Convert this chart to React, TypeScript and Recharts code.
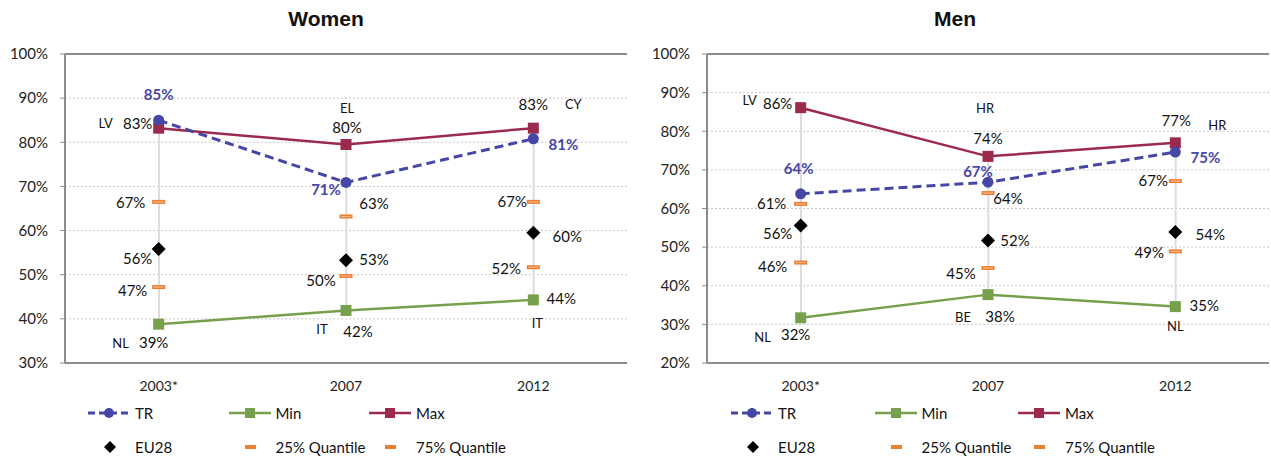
import React from 'react';
import { ComposedChart, Line, Bar, XAxis, YAxis, CartesianGrid, LabelList, ReferenceLine } from 'recharts';

// categories and values
const categories = ['2003*', '2007', '2012'];

const womenTR = [85, 70.9, 80.8];
const womenMin = [38.8, 41.9, 44.3];
const womenMax = [83.2, 79.5, 83.2];
const womenEU28 = [55.8, 53.3, 59.5];
const womenQ25 = [47.2, 49.7, 51.7];
const womenQ75 = [66.5, 63.2, 66.5];
const womenMinCountry = ['NL', 'IT', 'IT'];
const womenMaxCountry = ['LV', 'EL', 'CY'];

const menTR = [63.8, 66.8, 74.6];
const menMin = [31.7, 37.7, 34.6];
const menMax = [86.1, 73.5, 77];
const menEU28 = [55.6, 51.7, 53.9];
const menQ25 = [46, 44.6, 48.9];
const menQ75 = [61.2, 64, 67.1];
const menMinCountry = ['NL', 'BE', 'NL'];
const menMaxCountry = ['LV', 'HR', 'HR'];

const womenTicks = [30, 40, 50, 60, 70, 80, 90, 100];
const menTicks = [20, 30, 40, 50, 60, 70, 80, 90, 100];

// label placement (pixel offsets from each point)
const womenOffsets = {
  tr: [[0, -26], [-20, 7], [30, 5]],
  max: [[-21, -5], [1, -17], [0, -24]],
  min: [[-5, 18], [12, 21], [28, -2]],
  eu: [[-21, 9], [28, -1], [34, 3]],
  q25: [[-26, 3], [-25, 4], [-27, 1]],
  q75: [[-28, 0], [28, -13], [-21, -1]],
  maxCountry: [[-53, -5], [1, -36], [40, -24]],
  minCountry: [[-38, 19], [-24, 19], [4, 23]],
};
const menOffsets = {
  tr: [[-2, -26], [-10, -11], [30, 5]],
  max: [[-23, -5], [0, -18], [1, -23]],
  min: [[-5, 16], [12, 21], [29, -2]],
  eu: [[-23, 8], [27, -1], [35, 2]],
  q25: [[-28, 3], [-27, 5], [-26, 1]],
  q75: [[-29, -1], [20, 5], [-22, -1]],
  maxCountry: [[-51, -8], [-3, -48], [42, -18]],
  minCountry: [[-38, 19], [-25, 22], [0, 19]],
};

const FONT = 'Lato, "Open Sans", sans-serif';
const C_TR = '#4646a6';
const C_MIN = '#77a04c';
const C_MAX = '#9c2a4c';
const C_Q = '#ee7d32';
const C_AXIS = '#8c8c8c';

const buildRows = (tr: number[], mn: number[], mx: number[], eu: number[], q25: number[], q75: number[]) =>
  categories.map((c, i) => ({
    year: c,
    tr: tr[i],
    min: mn[i],
    max: mx[i],
    eu: eu[i],
    q25: q25[i],
    q75: q75[i],
    range: [mn[i], mx[i]],
  }));

const circleDot = (p: any) => <circle key={`c${p.index}`} cx={p.cx} cy={p.cy} r={5.5} fill={C_TR} />;
const squareDot = (color: string) => (p: any) =>
  <rect key={`s${p.index}`} x={p.cx - 5.5} y={p.cy - 5.5} width={11} height={11} fill={color} />;
const diamondDot = (p: any) => (
  <polygon
    key={`d${p.index}`}
    points={`${p.cx},${p.cy - 7} ${p.cx + 7},${p.cy} ${p.cx},${p.cy + 7} ${p.cx - 7},${p.cy}`}
    fill="#000"
  />
);
const dashDot = (p: any) => (
  <g key={`q${p.index}`}>
    <rect x={p.cx - 6.5} y={p.cy - 2} width={13} height={4} fill={C_Q} />
    <line x1={p.cx - 5} x2={p.cx + 5} y1={p.cy} y2={p.cy} stroke="#f7c4a0" strokeWidth={1} />
  </g>
);

const valueLabel = (offsets: number[][], color = '#111', bold = false) => (p: any) => {
  const [dx, dy] = offsets[p.index];
  return (
    <text
      key={`v${p.index}`}
      x={Number(p.x) + dx}
      y={Number(p.y) + dy}
      textAnchor="middle"
      dominantBaseline="central"
      fill={color}
      fontFamily={FONT}
      fontSize={15}
      fontWeight={bold ? 700 : 400}
    >
      {Math.round(p.value)}%
    </text>
  );
};

const countryLabel = (names: string[], offsets: number[][]) => (p: any) => {
  const [dx, dy] = offsets[p.index];
  return (
    <text
      key={`n${p.index}`}
      x={Number(p.x) + dx}
      y={Number(p.y) + dy}
      textAnchor="middle"
      dominantBaseline="central"
      fill="#111"
      fontFamily={FONT}
      fontSize={13}
    >
      {names[p.index]}
    </text>
  );
};

const LegendIcon = ({ kind }: { kind: string }) => {
  if (kind === 'tr')
    return (
      <svg width={42} height={14}>
        <line x1={0} x2={42} y1={7} y2={7} stroke={C_TR} strokeWidth={3} strokeDasharray="7 4" />
        <circle cx={21} cy={7} r={5} fill={C_TR} />
      </svg>
    );
  if (kind === 'min' || kind === 'max') {
    const c = kind === 'min' ? C_MIN : C_MAX;
    return (
      <svg width={42} height={14}>
        <line x1={0} x2={42} y1={7} y2={7} stroke={c} strokeWidth={2.5} />
        <rect x={16} y={2} width={10} height={10} fill={c} />
      </svg>
    );
  }
  if (kind === 'eu')
    return (
      <svg width={42} height={14}>
        <polygon points="22,1 28,7 22,13 16,7" fill="#000" />
      </svg>
    );
  return (
    <svg width={42} height={14}>
      <rect x={16} y={5} width={11} height={4} fill={C_Q} />
    </svg>
  );
};

const legendRows = [
  [['tr', 'TR'], ['min', 'Min'], ['max', 'Max']],
  [['eu', 'EU28'], ['q', '25% Quantile'], ['q', '75% Quantile']],
];

const PanelLegend = ({ left, colWidth }: { left: number; colWidth: number }) => (
  <>
    {legendRows.map((row, r) =>
      row.map(([kind, name], c) => (
        <div
          key={`${r}-${c}`}
          style={{
            position: 'absolute',
            left: left + c * colWidth,
            top: (r === 0 ? 413 : 447) - 9,
            height: 18,
            display: 'flex',
            alignItems: 'center',
            fontFamily: FONT,
            fontSize: 15,
            color: '#111',
            whiteSpace: 'nowrap',
          }}
        >
          <LegendIcon kind={kind} />
          <span style={{ marginLeft: 5 }}>{name}</span>
        </div>
      ))
    )}
  </>
);

type PanelProps = {
  title: string;
  titleCenter: number;
  rows: any[];
  yMin: number;
  ticks: number[];
  offs: any;
  minNames: string[];
  maxNames: string[];
  left: number;
  width: number;
  yAxisWidth: number;
  marginRight: number;
  legendLeft: number;
  colWidth: number;
};

const Panel = (p: PanelProps) => (
  <div style={{ position: 'absolute', left: p.left, top: 0, width: p.width, height: 458 }}>
    <div
      style={{
        position: 'absolute',
        left: p.titleCenter - p.left - 100,
        width: 200,
        top: 7,
        textAlign: 'center',
        fontFamily: '"Liberation Sans", Arial, sans-serif',
        fontWeight: 700,
        fontSize: 21,
        color: '#111',
      }}
    >
      {p.title}
    </div>
    <div style={{ position: 'absolute', left: 0, top: 0 }}>
      <ComposedChart
        width={p.width}
        height={400}
        data={p.rows}
        margin={{ top: 54, right: p.marginRight, left: 0, bottom: 7 }}
      >
        <CartesianGrid vertical={false} stroke="#c8c8c8" strokeDasharray="2 2" />
        <XAxis
          dataKey="year"
          height={30}
          tickLine={false}
          tickMargin={12}
          axisLine={{ stroke: C_AXIS, strokeWidth: 2 }}
          tick={{ fill: '#222', fontSize: 14, fontFamily: FONT }}
        />
        <YAxis
          domain={[p.yMin, 100]}
          ticks={p.ticks}
          width={p.yAxisWidth}
          tickSize={5}
          tickMargin={12}
          tickFormatter={(v: number) => `${v}%`}
          axisLine={{ stroke: C_AXIS, strokeWidth: 2 }}
          tickLine={{ stroke: C_AXIS }}
          tick={{ fill: '#222', fontSize: 15, fontFamily: FONT }}
        />
        <YAxis
          yAxisId="r"
          orientation="right"
          width={0}
          domain={[0, 1]}
          tick={false}
          tickLine={false}
          axisLine={{ stroke: C_AXIS, strokeWidth: 2 }}
        />
        <ReferenceLine y={100} stroke={C_AXIS} strokeWidth={2} />
        <Bar dataKey="range" barSize={2} fill="#dcdcdc" isAnimationActive={false} />
        <Line
          dataKey="q75"
          stroke="none"
          dot={dashDot}
          activeDot={false}
          isAnimationActive={false}
        >
          <LabelList dataKey="q75" content={valueLabel(p.offs.q75)} />
        </Line>
        <Line
          dataKey="q25"
          stroke="none"
          dot={dashDot}
          activeDot={false}
          isAnimationActive={false}
        >
          <LabelList dataKey="q25" content={valueLabel(p.offs.q25)} />
        </Line>
        <Line
          dataKey="eu"
          stroke="none"
          dot={diamondDot}
          activeDot={false}
          isAnimationActive={false}
        >
          <LabelList dataKey="eu" content={valueLabel(p.offs.eu)} />
        </Line>
        <Line
          dataKey="min"
          stroke={C_MIN}
          strokeWidth={2.5}
          dot={squareDot(C_MIN)}
          activeDot={false}
          isAnimationActive={false}
        >
          <LabelList dataKey="min" content={valueLabel(p.offs.min)} />
          <LabelList dataKey="min" content={countryLabel(p.minNames, p.offs.minCountry)} />
        </Line>
        <Line
          dataKey="max"
          stroke={C_MAX}
          strokeWidth={2.5}
          dot={squareDot(C_MAX)}
          activeDot={false}
          isAnimationActive={false}
        >
          <LabelList dataKey="max" content={valueLabel(p.offs.max)} />
          <LabelList dataKey="max" content={countryLabel(p.maxNames, p.offs.maxCountry)} />
        </Line>
        <Line
          dataKey="tr"
          stroke={C_TR}
          strokeWidth={3}
          strokeDasharray="9 5"
          dot={circleDot}
          activeDot={false}
          isAnimationActive={false}
        >
          <LabelList dataKey="tr" content={valueLabel(p.offs.tr, C_TR, true)} />
        </Line>
      </ComposedChart>
    </div>
    <PanelLegend left={p.legendLeft - p.left} colWidth={p.colWidth} />
  </div>
);

const womenRows = buildRows(womenTR, womenMin, womenMax, womenEU28, womenQ25, womenQ75);
const menRows = buildRows(menTR, menMin, menMax, menEU28, menQ25, menQ75);

export default function App() {
  return (
    <div style={{ position: 'absolute', left: 0, top: 0, width: 1271, height: 458, background: '#fff' }}>
      <Panel
        title="Women"
        titleCenter={326}
        rows={womenRows}
        yMin={30}
        ticks={womenTicks}
        offs={womenOffsets}
        minNames={womenMinCountry}
        maxNames={womenMaxCountry}
        left={0}
        width={640}
        yAxisWidth={65}
        marginRight={13}
        legendLeft={88}
        colWidth={140.5}
      />
      <Panel
        title="Men"
        titleCenter={955}
        rows={menRows}
        yMin={20}
        ticks={menTicks}
        offs={menOffsets}
        minNames={menMinCountry}
        maxNames={menMaxCountry}
        left={640}
        width={631}
        yAxisWidth={67}
        marginRight={2}
        legendLeft={731}
        colWidth={143.5}
      />
    </div>
  );
}
